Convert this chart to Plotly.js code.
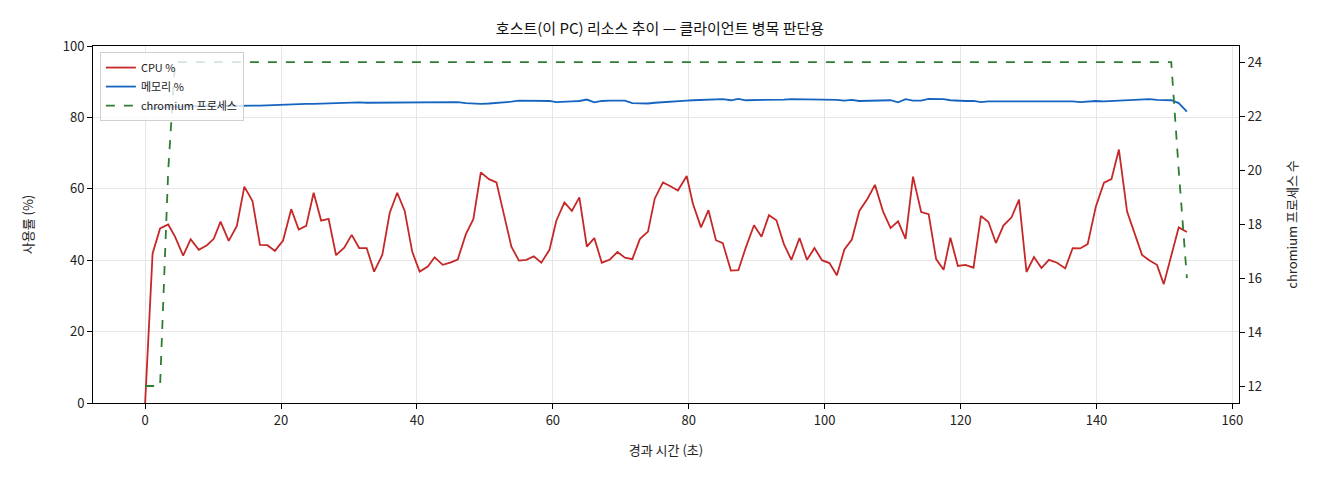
<!DOCTYPE html>
<html>
<head>
<meta charset="utf-8">
<script src="https://cdn.plot.ly/plotly-3.0.1.min.js"></script>
<style>
  html, body { margin: 0; padding: 0; background: #fff; }
  #host-chart { width: 1320px; height: 480px; }
</style>
</head>
<body>
<div id="host-chart"></div>
<script>
// elapsed seconds for each sample
const elapsedSec = [
  0, 1.1, 2.2, 3.4, 4.4, 5.6, 6.7, 7.9, 9.1, 10.1, 11.1, 12.3, 13.5, 14.6, 15.8, 16.9, 18.0, 19.1, 20.3, 21.5,
  22.6, 23.7, 24.8, 25.9, 27.0, 28.1, 29.3, 30.4, 31.5, 32.6, 33.7, 34.9, 36.0, 37.1, 38.2, 39.3, 40.4, 41.6, 42.6, 43.8,
  44.9, 46.0, 47.2, 48.3, 49.4, 50.6, 51.7, 52.8, 53.9, 55.0, 56.1, 57.2, 58.3, 59.5, 60.5, 61.7, 62.8, 63.9, 65.0, 66.1,
  67.2, 68.4, 69.5, 70.6, 71.7, 72.8, 74.0, 75.0, 76.2, 77.3, 78.4, 79.7, 80.6, 81.8, 82.9, 84.0, 85.0, 86.2, 87.3, 88.4,
  89.6, 90.7, 91.8, 92.9, 94.0, 95.1, 96.3, 97.4, 98.5, 99.6, 100.7, 101.8, 102.9, 104.0, 105.1, 106.3, 107.4, 108.6, 109.7, 110.8,
  111.9, 113.0, 114.2, 115.3, 116.4, 117.5, 118.5, 119.6, 120.7, 121.9, 123.0, 124.1, 125.2, 126.3, 127.5, 128.6, 129.7, 130.8, 131.9, 133.0,
  134.2, 135.4, 136.5, 137.6, 138.7, 139.9, 141.1, 142.2, 143.3, 144.5, 145.6, 146.7, 147.8, 148.9, 149.9, 151.0, 152.1, 153.3
];

const cpuPct = [
  0, 41.9, 48.9, 50.0, 46.6, 41.3, 45.9, 42.9, 44.2, 46.0, 50.8, 45.4, 49.6, 60.6, 56.6, 44.3, 44.2, 42.6, 45.5, 54.3,
  48.6, 49.6, 58.9, 51.1, 51.6, 41.4, 43.5, 47.1, 43.4, 43.4, 36.8, 41.5, 53.3, 58.9, 53.8, 42.4, 36.8, 38.2, 40.8, 38.7,
  39.3, 40.2, 47.3, 51.5, 64.6, 62.7, 61.8, 52.8, 43.8, 39.9, 40.1, 41.1, 39.3, 42.9, 51.0, 56.2, 53.8, 57.6, 43.8, 46.2,
  39.3, 40.2, 42.3, 40.7, 40.3, 45.9, 48.0, 57.3, 61.8, 60.7, 59.5, 63.6, 55.9, 49.2, 54.0, 45.6, 44.8, 37.1, 37.2, 43.6,
  49.8, 46.6, 52.6, 51.2, 44.5, 40.1, 46.2, 40.1, 43.4, 40.0, 39.2, 35.8, 43.0, 45.8, 53.8, 57.2, 61.1, 53.6, 49.0, 50.9,
  46.0, 63.4, 53.5, 52.9, 40.3, 37.3, 46.3, 38.4, 38.7, 37.9, 52.4, 50.7, 44.8, 49.7, 52.0, 57.0, 36.7, 40.9, 37.8, 40.1,
  39.3, 37.7, 43.4, 43.3, 44.5, 55.0, 61.7, 62.7, 71.0, 53.6, 47.5, 41.5, 39.9, 38.7, 33.3, 41.3, 49.2, 47.9
];

const memPct = [
  82.4, 82.6, 82.8, 82.9, 83.0, 83.0, 83.1, 83.1, 83.2, 83.2, 83.3, 83.2, 83.3, 83.3, 83.3, 83.3, 83.4, 83.5, 83.6, 83.7,
  83.7, 83.8, 83.8, 83.9, 83.9, 84.0, 84.1, 84.2, 84.2, 84.1, 84.1, 84.1, 84.1, 84.2, 84.3, 84.3, 84.3, 84.2, 84.3, 84.2,
  84.2, 84.3, 84.0, 83.8, 83.8, 83.9, 84.0, 84.2, 84.4, 84.7, 84.7, 84.6, 84.6, 84.6, 84.3, 84.5, 84.5, 84.6, 85.0, 84.2,
  84.6, 84.7, 84.7, 84.7, 84.0, 83.9, 83.9, 84.1, 84.3, 84.4, 84.5, 84.7, 84.8, 84.9, 85.0, 85.0, 85.1, 84.8, 85.2, 84.8,
  84.8, 84.8, 84.8, 84.9, 85.0, 85.1, 85.1, 85.1, 85.1, 85.1, 85.0, 84.9, 84.7, 84.9, 84.6, 84.6, 84.8, 84.8, 84.8, 84.2,
  85.1, 84.7, 84.7, 85.2, 85.1, 85.1, 84.8, 84.6, 84.6, 84.6, 84.3, 84.5, 84.5, 84.5, 84.5, 84.6, 84.7, 84.7, 84.6, 84.6,
  84.6, 84.6, 84.5, 84.3, 84.5, 84.6, 84.5, 84.6, 84.8, 84.9, 85.0, 85.0, 85.1, 84.9, 84.8, 84.8, 84.0, 81.6
];

const chromiumCount = [
  12, 12, 12, 20,
  24, 24, 24, 24, 24, 24, 24, 24, 24, 24, 24, 24, 24, 24, 24, 24, 24, 24, 24, 24, 24, 24,
  24, 24, 24, 24, 24, 24, 24, 24, 24, 24, 24, 24, 24, 24, 24, 24, 24, 24, 24, 24, 24, 24,
  24, 24, 24, 24, 24, 24, 24, 24, 24, 24, 24, 24, 24, 24, 24, 24, 24, 24, 24, 24, 24, 24,
  24, 24, 24, 24, 24, 24, 24, 24, 24, 24, 24, 24, 24, 24, 24, 24, 24, 24, 24, 24, 24, 24,
  24, 24, 24, 24, 24, 24, 24, 24, 24, 24, 24, 24, 24, 24, 24, 24, 24, 24, 24, 24, 24, 24,
  24, 24, 24, 24, 24, 24, 24, 24, 24, 24, 24, 24, 24, 24, 24, 24, 24, 24, 24, 24, 24, 24,
  20, 16
];

const FONT = '"Noto Sans CJK KR", "Noto Sans", sans-serif';

const cpuTrace = {
  x: elapsedSec,
  y: cpuPct,
  name: 'CPU %',
  mode: 'lines',
  type: 'scatter',
  line: {color: '#c62828', width: 1.8},
  legendgroup: 'a',
};

const memTrace = {
  x: elapsedSec,
  y: memPct,
  name: '메모리 %',
  mode: 'lines',
  type: 'scatter',
  line: {color: '#1565c0', width: 1.8},
  legendgroup: 'b',
};

const procTrace = {
  x: elapsedSec,
  y: chromiumCount,
  name: 'chromium 프로세스',
  mode: 'lines',
  type: 'scatter',
  yaxis: 'y2',
  line: {color: '#2e7d32', width: 1.8, dash: 'dash'},
  legendgroup: 'c',
};

const axisCommon = {
  showline: true,
  linecolor: '#000',
  linewidth: 1,
  ticks: 'outside',
  ticklen: 5,
  tickcolor: '#000',
  zeroline: false,
  tickfont: {family: FONT, size: 13, color: '#222'},
};

const layout = {
  width: 1320,
  height: 480,
  margin: {l: 93, r: 81, t: 46, b: 77},
  paper_bgcolor: '#fff',
  plot_bgcolor: '#fff',
  font: {family: FONT, size: 13, color: '#222'},
  title: {
    text: '호스트(이 PC) 리소스 추이 — 클라이언트 병목 판단용',
    font: {family: FONT, size: 15, color: '#111'},
    x: 0.5,
    xanchor: 'center',
    y: 0.94,
    yref: 'container',
    yanchor: 'middle',
  },
  xaxis: Object.assign({}, axisCommon, {
    range: [-7.67, 160.97],
    dtick: 20,
    mirror: true,
    showgrid: true,
    gridcolor: '#e6e6e6',
    title: {text: '경과 시간 (초)', font: {family: FONT, size: 13}, standoff: 18},
  }),
  yaxis: Object.assign({}, axisCommon, {
    range: [0, 100],
    dtick: 20,
    showgrid: true,
    gridcolor: '#e6e6e6',
    title: {text: '사용률 (%)', font: {family: FONT, size: 13}, standoff: 26},
  }),
  yaxis2: Object.assign({}, axisCommon, {
    overlaying: 'y',
    side: 'right',
    range: [11.37, 24.6],
    dtick: 2,
    showgrid: false,
    title: {text: 'chromium 프로세스 수', font: {family: FONT, size: 13}, standoff: 26},
  }),
  showlegend: true,
  legend: {
    x: 0.006,
    y: 0.983,
    xanchor: 'left',
    yanchor: 'top',
    bgcolor: 'rgba(255,255,255,0.8)',
    bordercolor: '#d0d0d0',
    borderwidth: 1,
    font: {family: FONT, size: 11, color: '#222'},
    tracegroupgap: 5,
    traceorder: 'normal',
  },
};

Plotly.newPlot('host-chart', [cpuTrace, memTrace, procTrace], layout, {staticPlot: true});
</script>
</body>
</html>
